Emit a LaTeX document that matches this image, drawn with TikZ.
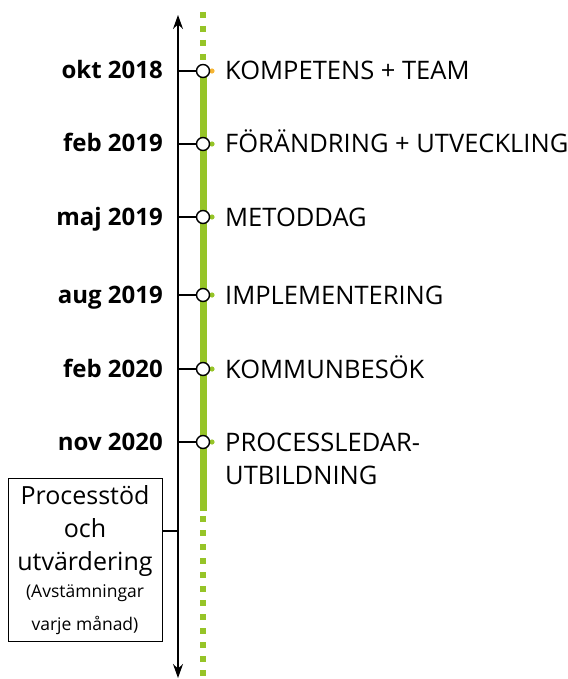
\documentclass[tikz,border=0pt]{standalone}
\usepackage{fontspec}
\setmainfont{Open Sans}
\usetikzlibrary{arrows.meta,positioning}
\definecolor{linegreen}{RGB}{150,196,40}
\definecolor{dotorange}{RGB}{245,180,50}

\begin{document}
\begin{tikzpicture}[
    x=1pt, y=-1pt,
    datelabel/.style={anchor=base east, font=\fontsize{24}{26}\selectfont\bfseries, inner sep=0pt},
    eventlabel/.style={anchor=base west, align=left, font=\fontsize{25.5}{33}\selectfont, inner sep=0pt},
    milestone/.style={circle, draw, fill=white, line width=1.4pt, minimum size=13pt, inner sep=0pt},
    arrow/.style={{Stealth[length=14pt,width=10pt]}-{Stealth[length=14pt,width=10pt]}, line width=1.2pt}
]
\useasboundingbox (0,0) rectangle (567,679);

% Green process line
\draw[linegreen, line width=7pt] (203,70) -- (203,511);
\draw[linegreen, line width=6pt, dash pattern=on 6pt off 8pt] (203,12) -- (203,62);
\draw[linegreen, line width=6pt, dash pattern=on 6pt off 8pt] (203,516) -- (203,679);

% Time axis
\coordinate (top) at (178,15);
\coordinate (bottom) at (178,678);
\draw[arrow] (bottom) -- (top);

% Milestones
\foreach \i/\y/\yb/\date/\event/\dotcol in {
    1/71/80/okt 2018/KOMPETENS + TEAM/dotorange,
    2/144/153/feb 2019/FÖRÄNDRING + UTVECKLING/linegreen,
    3/217/226/maj 2019/METODDAG/linegreen,
    4/295/304/aug 2019/IMPLEMENTERING/linegreen,
    5/369/378/feb 2020/KOMMUNBESÖK/linegreen,
    6/442/484/nov 2020/{PROCESSLEDAR-\\UTBILDNING}/linegreen} {
  \coordinate (a\i) at (178,\y);
  \fill[\dotcol] (212,\y) circle (2.6pt);
  \node[milestone] (c\i) at (203,\y) {};
  \draw[line width=1.2pt] (a\i) -- (c\i);
  \node[datelabel] (d\i) at (163,\y+8) {\date};
  \node[eventlabel] (e\i) at (225,\yb) {\event};
}

% Support box
\node[draw, line width=0.8pt, minimum width=154pt, minimum height=163pt, align=center,
      font=\fontsize{25}{33}\selectfont] (support) at (85,560)
  {Processtöd\\och\\utvärdering\\[-6pt]{\fontsize{17.5}{25}\selectfont(Avstämningar}\\{\fontsize{17.5}{25}\selectfont varje månad)}};
\coordinate (abox) at (178,531);
\draw[line width=1.2pt] (abox) -- (abox -| support.east);

\end{tikzpicture}
\end{document}
